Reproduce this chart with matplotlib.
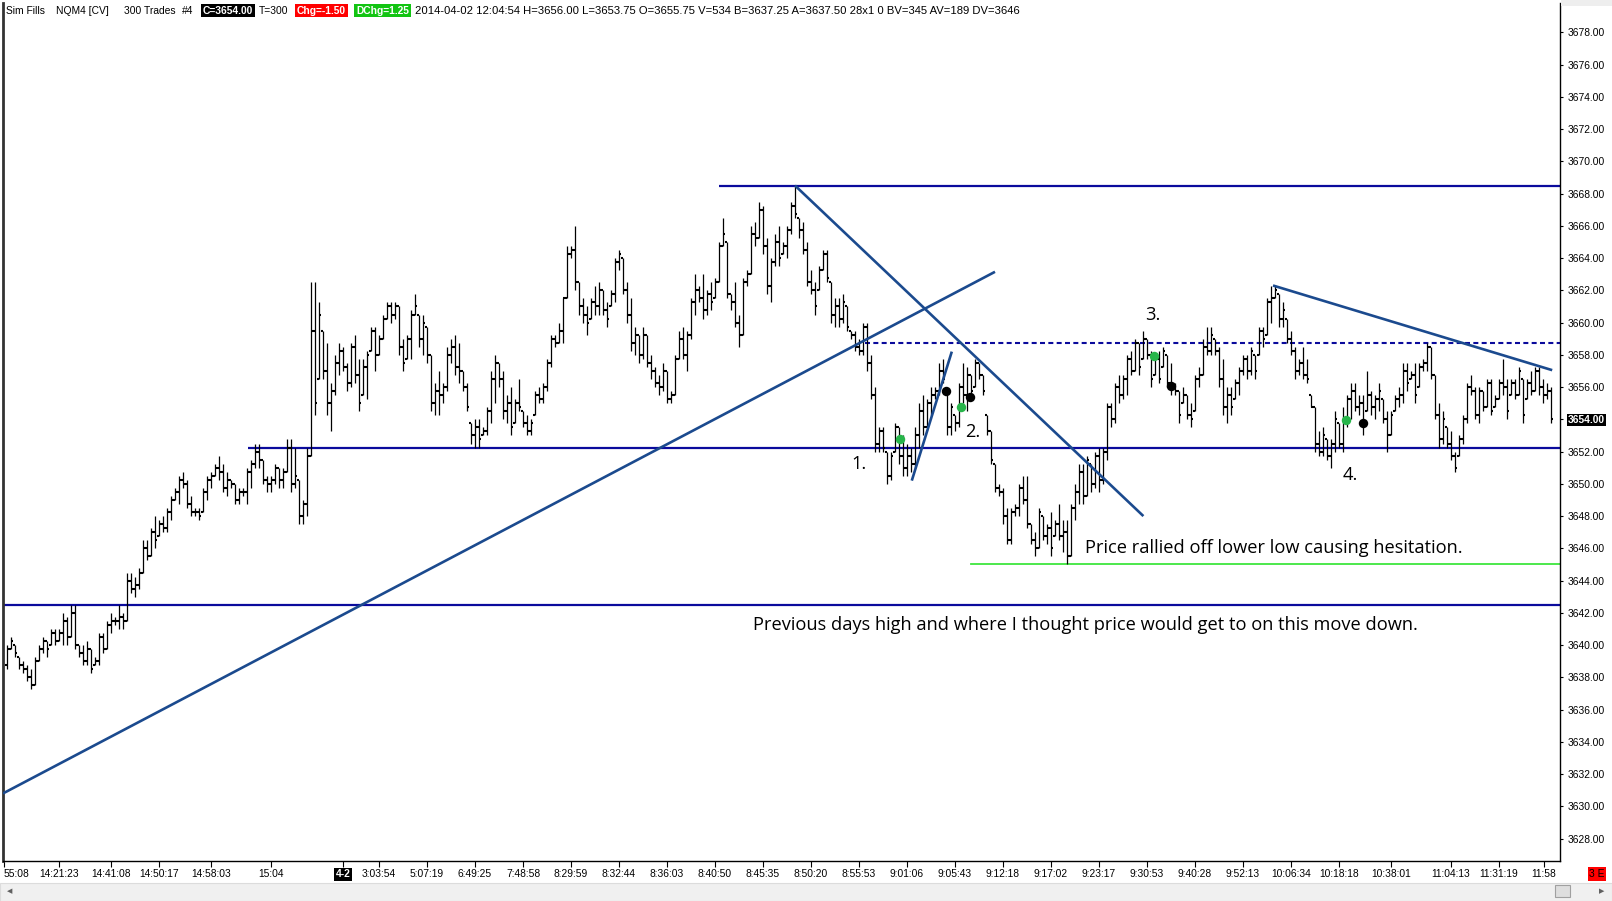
import matplotlib.pyplot as plt
import numpy as np
from matplotlib.collections import LineCollection
from matplotlib.patches import Rectangle
from matplotlib import font_manager

W, H = 1612, 901

# 300 tick bars, NQM4, one entry per bar
opens = [
    3638.75, 3639.75, 3640.0, 3639.25, 3638.75, 3638.5, 3638.0, 3637.5, 3639.0, 3639.75,
    3640.25, 3640.0, 3640.75, 3640.25, 3640.75, 3641.5, 3640.5, 3642.0, 3640.0, 3639.5,
    3639.0, 3639.75, 3638.75, 3639.0, 3640.5, 3639.75, 3641.25, 3641.5, 3641.5, 3641.75,
    3641.5, 3644.0, 3643.5, 3643.75, 3644.5, 3646.0, 3645.5, 3647.0, 3646.75, 3647.5,
    3647.25, 3648.25, 3649.0, 3649.5, 3650.25, 3650.0, 3648.75, 3648.25, 3648.25, 3648.25,
    3649.5, 3650.25, 3650.5, 3651.0, 3650.75, 3649.75, 3650.25, 3650.0, 3649.0, 3649.5,
    3649.5, 3650.75, 3651.25, 3652.0, 3651.5, 3650.25, 3650.0, 3650.25, 3651.0, 3650.25,
    3650.75, 3652.25, 3650.0, 3650.25, 3648.0, 3648.75, 3651.75, 3659.5, 3656.5, 3659.5,
    3657.0, 3655.0, 3655.75, 3657.5, 3658.25, 3657.25, 3656.25, 3658.5, 3656.75, 3655.5,
    3657.25, 3658.25, 3659.5, 3658.0, 3659.0, 3660.25, 3661.0, 3660.5, 3661.0, 3658.5,
    3657.75, 3659.0, 3660.5, 3660.5, 3659.0, 3659.75, 3658.0, 3655.0, 3655.75, 3655.5,
    3656.0, 3658.0, 3658.5, 3657.25, 3657.0, 3656.0, 3653.75, 3653.0, 3653.5, 3653.0,
    3653.25, 3654.5, 3656.5, 3657.5, 3656.5, 3654.5, 3655.0, 3653.75, 3655.0, 3654.5,
    3653.75, 3653.25, 3654.25, 3655.5, 3655.25, 3656.0, 3657.5, 3659.0, 3658.75, 3659.5,
    3661.5, 3664.25, 3664.5, 3662.5, 3661.0, 3660.5, 3660.25, 3661.25, 3661.0, 3662.0,
    3660.75, 3661.0, 3661.75, 3663.75, 3664.0, 3662.0, 3660.5, 3658.75, 3659.25, 3658.0,
    3659.25, 3657.5, 3657.0, 3656.25, 3656.0, 3657.0, 3655.25, 3655.5, 3657.75, 3659.0,
    3658.0, 3659.25, 3661.25, 3662.0, 3661.5, 3660.75, 3661.75, 3661.5, 3662.5, 3664.75,
    3665.0, 3661.75, 3661.25, 3660.0, 3659.25, 3662.5, 3663.0, 3665.5, 3665.25, 3667.0,
    3664.75, 3662.25, 3663.75, 3665.0, 3664.25, 3664.75, 3665.75, 3667.25, 3666.5, 3665.75,
    3664.5, 3662.5, 3662.0, 3662.0, 3663.25, 3664.25, 3662.5, 3660.5, 3661.0, 3660.25,
    3661.0, 3659.5, 3659.25, 3658.5, 3658.25, 3659.75, 3657.5, 3655.5, 3652.5, 3653.25,
    3652.0, 3650.5, 3652.0, 3653.5, 3651.75, 3651.0, 3651.75, 3651.25, 3653.0, 3654.5,
    3653.5, 3655.0, 3655.5, 3655.75, 3657.0, 3655.5, 3653.5, 3654.25, 3653.75, 3656.0,
    3655.5, 3656.75, 3656.0, 3657.5, 3656.75, 3654.25, 3653.25, 3651.25, 3649.75, 3649.5,
    3648.0, 3646.5, 3648.25, 3648.5, 3649.75, 3649.0, 3647.5, 3646.5, 3646.0, 3648.0,
    3646.75, 3647.25, 3646.75, 3647.5, 3646.75, 3647.0, 3645.5, 3648.5, 3649.5, 3650.75,
    3649.25, 3651.25, 3650.0, 3651.75, 3650.25, 3652.0, 3654.75, 3654.0, 3656.0, 3655.5,
    3656.5, 3657.75, 3657.0, 3658.75, 3657.75, 3659.0, 3658.0, 3656.75, 3657.75, 3657.25,
    3658.0, 3656.25, 3656.0, 3655.75, 3655.0, 3655.5, 3654.25, 3654.5, 3656.5, 3656.75,
    3658.5, 3658.25, 3659.0, 3658.25, 3656.5, 3654.75, 3655.5, 3655.25, 3656.25, 3657.0,
    3657.75, 3657.0, 3658.0, 3658.0, 3659.5, 3659.25, 3661.25, 3661.5, 3661.75, 3660.25,
    3660.25, 3659.0, 3658.25, 3657.0, 3657.5, 3656.75, 3655.5, 3654.75, 3652.5, 3652.0,
    3652.75, 3651.75, 3652.5, 3653.75, 3652.5, 3654.0, 3655.25, 3655.75, 3654.75, 3655.0,
    3654.5, 3655.5, 3654.75, 3655.25, 3655.25, 3654.0, 3653.0, 3654.5, 3655.25, 3655.5,
    3657.0, 3656.5, 3656.75, 3656.0, 3657.25, 3657.5, 3658.5, 3656.75, 3654.25, 3652.75,
    3653.5, 3652.5, 3651.75, 3651.75, 3652.75, 3654.0, 3656.0, 3655.75, 3654.25, 3655.75,
    3654.75, 3656.25, 3654.75, 3655.25, 3656.25, 3656.0, 3655.5, 3656.25, 3655.5, 3656.5,
    3655.25, 3656.25, 3655.75, 3657.0, 3656.0, 3655.5, 3655.75,
]
highs = [
    3640.0, 3640.5, 3640.0, 3639.25, 3639.0, 3638.75, 3638.5, 3639.25, 3640.0, 3640.5,
    3640.25, 3641.0, 3641.0, 3641.0, 3642.0, 3641.75, 3642.5, 3642.5, 3640.0, 3640.0,
    3640.25, 3639.75, 3639.25, 3640.75, 3640.75, 3641.5, 3642.0, 3641.75, 3642.5, 3642.0,
    3644.5, 3644.5, 3644.25, 3644.75, 3646.5, 3646.5, 3647.25, 3648.0, 3647.75, 3648.0,
    3648.5, 3649.25, 3649.75, 3650.5, 3650.75, 3650.25, 3649.25, 3648.5, 3648.5, 3649.75,
    3650.5, 3650.75, 3651.25, 3651.75, 3651.25, 3650.75, 3650.25, 3650.0, 3649.75, 3649.75,
    3651.0, 3651.5, 3652.5, 3652.5, 3651.5, 3650.5, 3650.5, 3651.25, 3651.0, 3651.0,
    3652.75, 3652.75, 3652.25, 3650.25, 3649.0, 3652.25, 3662.5, 3662.5, 3661.25, 3659.5,
    3658.75, 3656.25, 3658.0, 3658.75, 3658.5, 3657.5, 3658.75, 3659.25, 3657.75, 3657.75,
    3658.25, 3659.75, 3659.75, 3659.25, 3660.5, 3661.25, 3661.25, 3661.25, 3661.0, 3659.0,
    3659.25, 3660.75, 3661.75, 3660.5, 3660.5, 3659.75, 3658.0, 3656.25, 3657.0, 3656.25,
    3658.5, 3659.0, 3659.25, 3658.75, 3657.0, 3656.25, 3653.75, 3654.0, 3654.0, 3653.5,
    3654.75, 3657.0, 3658.0, 3657.5, 3657.0, 3655.5, 3656.0, 3655.25, 3656.5, 3654.5,
    3654.25, 3654.0, 3655.75, 3656.0, 3656.25, 3657.75, 3659.25, 3659.25, 3660.0, 3661.5,
    3664.75, 3664.75, 3666.0, 3662.5, 3661.5, 3661.0, 3661.5, 3662.25, 3662.5, 3662.0,
    3661.25, 3662.0, 3664.0, 3664.5, 3664.0, 3662.5, 3661.5, 3659.75, 3659.25, 3659.75,
    3659.25, 3658.0, 3657.25, 3656.75, 3657.5, 3657.0, 3655.75, 3658.0, 3659.5, 3659.75,
    3659.5, 3661.5, 3663.0, 3662.25, 3663.0, 3662.0, 3662.5, 3662.75, 3665.0, 3666.5,
    3665.0, 3661.75, 3662.5, 3660.5, 3662.75, 3663.25, 3666.0, 3666.25, 3667.5, 3667.25,
    3665.25, 3664.0, 3665.5, 3666.0, 3665.0, 3666.0, 3667.5, 3668.5, 3666.5, 3666.25,
    3665.0, 3663.25, 3662.5, 3663.5, 3664.5, 3664.5, 3662.5, 3661.5, 3661.5, 3661.75,
    3661.0, 3659.5, 3659.5, 3659.0, 3660.0, 3660.0, 3658.0, 3656.0, 3653.5, 3653.5,
    3652.0, 3652.0, 3653.75, 3653.5, 3653.0, 3652.5, 3652.25, 3653.5, 3655.0, 3655.5,
    3655.25, 3656.0, 3656.0, 3657.5, 3657.75, 3655.5, 3655.0, 3654.25, 3656.25, 3657.5,
    3657.25, 3656.75, 3657.75, 3657.5, 3656.75, 3654.25, 3653.25, 3651.25, 3650.0, 3649.75,
    3648.5, 3648.5, 3648.75, 3650.0, 3650.5, 3650.5, 3647.5, 3647.0, 3648.5, 3648.0,
    3647.5, 3648.25, 3647.75, 3648.75, 3647.75, 3647.75, 3648.75, 3650.0, 3651.25, 3651.25,
    3651.75, 3651.25, 3652.0, 3652.25, 3652.25, 3655.0, 3655.0, 3656.25, 3656.75, 3656.75,
    3658.0, 3658.25, 3659.0, 3658.75, 3659.5, 3659.0, 3658.25, 3658.0, 3658.25, 3658.5,
    3658.0, 3657.5, 3656.25, 3655.75, 3656.0, 3655.5, 3655.0, 3656.75, 3657.25, 3659.0,
    3659.75, 3659.75, 3659.0, 3658.5, 3657.75, 3656.0, 3656.0, 3656.5, 3657.25, 3658.0,
    3658.0, 3658.5, 3658.0, 3659.75, 3659.75, 3661.5, 3662.25, 3662.25, 3661.75, 3661.25,
    3660.25, 3659.5, 3658.5, 3657.75, 3658.5, 3657.75, 3655.5, 3654.75, 3653.25, 3653.5,
    3652.75, 3652.75, 3654.5, 3653.75, 3654.75, 3655.5, 3656.25, 3656.25, 3655.5, 3655.5,
    3657.0, 3655.75, 3655.5, 3656.25, 3655.25, 3654.5, 3654.5, 3655.5, 3656.0, 3657.5,
    3657.5, 3657.0, 3657.5, 3657.5, 3657.75, 3658.75, 3658.5, 3656.75, 3655.0, 3654.5,
    3653.5, 3653.25, 3652.0, 3653.0, 3654.25, 3656.25, 3656.75, 3656.0, 3656.0, 3655.75,
    3656.5, 3656.5, 3655.5, 3656.5, 3657.75, 3656.5, 3656.5, 3656.5, 3657.25, 3656.5,
    3656.5, 3657.0, 3657.25, 3657.25, 3656.5, 3656.25, 3656.0,
]
lows = [
    3638.5, 3639.75, 3639.25, 3638.5, 3638.25, 3637.75, 3637.25, 3637.5, 3639.0, 3639.5,
    3639.25, 3640.0, 3640.0, 3640.25, 3640.0, 3640.0, 3640.5, 3639.75, 3639.25, 3638.75,
    3638.75, 3638.25, 3638.75, 3638.75, 3639.5, 3639.75, 3640.75, 3641.25, 3641.0, 3641.0,
    3641.5, 3643.25, 3643.0, 3643.5, 3644.5, 3645.25, 3645.5, 3646.0, 3646.75, 3647.0,
    3647.0, 3647.75, 3649.0, 3648.75, 3649.75, 3648.5, 3648.0, 3648.0, 3647.75, 3648.25,
    3649.0, 3649.75, 3650.5, 3650.25, 3649.5, 3649.25, 3649.75, 3648.75, 3648.75, 3649.25,
    3648.75, 3649.75, 3651.0, 3651.0, 3650.0, 3649.5, 3649.5, 3650.0, 3649.75, 3649.75,
    3650.75, 3649.5, 3649.75, 3647.5, 3647.5, 3648.0, 3651.75, 3654.25, 3656.5, 3656.5,
    3654.25, 3653.25, 3655.5, 3656.75, 3657.0, 3655.75, 3656.0, 3656.25, 3654.5, 3655.5,
    3655.25, 3658.25, 3657.0, 3658.0, 3659.0, 3660.25, 3660.0, 3660.25, 3658.0, 3657.0,
    3657.75, 3657.75, 3660.5, 3658.5, 3658.0, 3657.5, 3654.5, 3654.25, 3654.25, 3655.0,
    3655.75, 3657.5, 3656.75, 3656.25, 3655.75, 3654.5, 3652.5, 3652.25, 3652.25, 3653.0,
    3653.0, 3653.75, 3655.0, 3656.0, 3654.0, 3653.75, 3653.0, 3653.75, 3654.5, 3653.5,
    3653.0, 3653.0, 3654.25, 3655.0, 3655.0, 3655.75, 3657.25, 3658.5, 3658.75, 3658.75,
    3661.5, 3664.0, 3662.0, 3660.5, 3660.0, 3659.25, 3660.25, 3660.5, 3660.5, 3660.5,
    3659.75, 3661.0, 3661.25, 3663.25, 3661.75, 3660.0, 3658.25, 3658.0, 3657.5, 3657.75,
    3657.25, 3656.5, 3656.0, 3655.5, 3655.75, 3655.0, 3655.0, 3655.5, 3657.75, 3657.75,
    3657.0, 3659.0, 3660.5, 3661.25, 3660.25, 3660.5, 3660.75, 3661.5, 3662.5, 3664.75,
    3661.5, 3660.75, 3659.75, 3658.5, 3659.25, 3662.25, 3663.0, 3664.75, 3665.25, 3664.25,
    3661.75, 3661.25, 3663.5, 3663.5, 3664.25, 3664.0, 3665.5, 3666.5, 3665.25, 3664.25,
    3662.25, 3661.75, 3660.5, 3662.0, 3663.25, 3662.5, 3660.0, 3659.75, 3659.75, 3660.0,
    3659.5, 3659.0, 3658.25, 3658.0, 3658.0, 3657.0, 3655.25, 3652.0, 3652.0, 3652.0,
    3650.0, 3650.25, 3652.0, 3651.25, 3650.5, 3650.5, 3650.75, 3651.0, 3652.25, 3653.0,
    3653.5, 3654.25, 3655.25, 3655.5, 3656.25, 3653.0, 3653.0, 3653.25, 3653.5, 3655.0,
    3654.5, 3655.5, 3656.0, 3656.5, 3655.5, 3653.0, 3651.25, 3649.5, 3649.25, 3647.5,
    3646.25, 3646.25, 3648.0, 3648.0, 3648.75, 3647.25, 3646.25, 3645.5, 3646.0, 3646.5,
    3646.25, 3645.5, 3646.75, 3646.5, 3645.75, 3645.0, 3645.5, 3647.75, 3648.75, 3648.75,
    3649.25, 3649.5, 3649.75, 3649.5, 3650.0, 3651.5, 3653.5, 3653.75, 3655.0, 3655.25,
    3655.5, 3656.75, 3657.0, 3656.75, 3657.75, 3657.75, 3656.0, 3656.75, 3656.25, 3657.25,
    3656.0, 3655.5, 3655.5, 3653.75, 3655.0, 3654.0, 3653.5, 3654.5, 3656.0, 3656.75,
    3658.0, 3658.0, 3658.0, 3656.0, 3654.25, 3653.75, 3654.25, 3655.25, 3655.5, 3656.75,
    3656.5, 3656.75, 3656.5, 3658.0, 3658.5, 3659.25, 3660.0, 3661.5, 3659.75, 3659.75,
    3658.75, 3658.0, 3656.5, 3656.75, 3656.5, 3656.25, 3654.75, 3652.0, 3651.75, 3651.75,
    3651.5, 3651.0, 3652.0, 3652.25, 3652.0, 3653.5, 3654.0, 3654.5, 3654.25, 3653.0,
    3654.5, 3654.25, 3654.0, 3654.5, 3653.75, 3652.0, 3653.0, 3654.5, 3654.75, 3655.0,
    3655.75, 3656.5, 3655.0, 3656.0, 3657.0, 3657.0, 3656.5, 3654.0, 3652.25, 3652.5,
    3652.25, 3651.5, 3650.75, 3651.75, 3652.5, 3653.75, 3655.5, 3654.0, 3653.75, 3654.5,
    3654.75, 3654.25, 3654.75, 3655.25, 3655.5, 3654.0, 3655.5, 3655.25, 3655.5, 3653.75,
    3655.25, 3655.5, 3655.75, 3655.5, 3655.0, 3655.25, 3653.75,
]
closes = [
    3639.75, 3640.25, 3639.5, 3638.75, 3638.5, 3638.0, 3637.5, 3639.0, 3639.75, 3640.25,
    3639.75, 3640.75, 3640.25, 3640.75, 3641.5, 3640.5, 3642.0, 3640.0, 3639.5, 3639.0,
    3639.75, 3638.5, 3639.0, 3640.5, 3639.75, 3641.25, 3641.5, 3641.5, 3641.75, 3641.5,
    3644.0, 3643.5, 3643.75, 3644.5, 3646.0, 3645.5, 3647.0, 3646.5, 3647.5, 3647.25,
    3648.25, 3649.0, 3649.5, 3650.25, 3650.0, 3648.75, 3648.25, 3648.25, 3648.0, 3649.5,
    3650.25, 3650.5, 3651.0, 3650.75, 3649.75, 3650.25, 3650.0, 3649.0, 3649.5, 3649.5,
    3650.75, 3651.25, 3652.0, 3651.5, 3650.25, 3650.0, 3650.25, 3651.0, 3650.25, 3650.75,
    3652.25, 3650.0, 3650.5, 3648.0, 3648.75, 3651.75, 3659.5, 3655.0, 3660.5, 3657.0,
    3655.0, 3655.75, 3657.5, 3658.25, 3657.25, 3656.25, 3658.5, 3656.75, 3655.0, 3657.25,
    3658.0, 3659.5, 3658.0, 3659.0, 3660.25, 3661.0, 3660.5, 3661.0, 3658.5, 3657.5,
    3659.0, 3660.5, 3661.0, 3659.0, 3660.0, 3658.0, 3655.0, 3655.75, 3655.5, 3656.0,
    3658.0, 3658.5, 3657.25, 3657.0, 3656.0, 3654.75, 3653.0, 3653.5, 3652.75, 3653.25,
    3654.5, 3656.5, 3657.5, 3656.5, 3654.5, 3655.0, 3653.5, 3655.0, 3654.75, 3653.75,
    3653.25, 3653.75, 3655.5, 3655.25, 3656.0, 3657.5, 3659.0, 3658.75, 3659.5, 3661.5,
    3664.25, 3664.5, 3662.5, 3661.0, 3660.5, 3660.0, 3661.25, 3661.0, 3662.0, 3660.75,
    3660.25, 3661.75, 3663.75, 3664.25, 3662.0, 3660.5, 3658.75, 3659.25, 3658.0, 3659.25,
    3657.5, 3657.0, 3656.25, 3656.0, 3657.0, 3655.25, 3655.5, 3657.75, 3659.0, 3658.0,
    3659.25, 3661.25, 3662.0, 3661.5, 3660.75, 3661.75, 3661.25, 3662.5, 3664.75, 3665.5,
    3661.75, 3661.25, 3660.0, 3659.25, 3662.5, 3663.0, 3665.5, 3665.25, 3667.0, 3664.75,
    3662.25, 3663.75, 3665.0, 3664.0, 3664.75, 3665.75, 3667.25, 3666.75, 3665.75, 3664.5,
    3662.5, 3662.0, 3661.0, 3663.25, 3664.25, 3662.75, 3660.5, 3661.0, 3660.25, 3661.25,
    3659.75, 3659.25, 3658.5, 3658.25, 3659.75, 3657.5, 3655.5, 3652.5, 3653.25, 3652.25,
    3650.5, 3651.75, 3653.5, 3651.75, 3651.0, 3651.75, 3651.25, 3653.0, 3654.5, 3653.5,
    3655.0, 3655.5, 3655.75, 3657.0, 3656.5, 3653.5, 3654.75, 3653.75, 3656.0, 3655.5,
    3656.75, 3655.75, 3657.5, 3656.75, 3655.75, 3653.25, 3651.5, 3649.75, 3649.5, 3648.0,
    3646.5, 3648.25, 3648.5, 3649.75, 3649.0, 3647.5, 3646.5, 3646.0, 3648.25, 3646.75,
    3647.25, 3646.0, 3647.5, 3646.75, 3647.0, 3645.5, 3648.5, 3649.5, 3650.75, 3649.25,
    3651.5, 3650.0, 3651.75, 3650.25, 3652.0, 3654.75, 3654.0, 3656.0, 3655.5, 3656.5,
    3657.75, 3657.0, 3658.75, 3657.25, 3659.0, 3658.0, 3656.5, 3657.75, 3656.5, 3658.25,
    3656.25, 3656.0, 3655.75, 3654.25, 3655.5, 3654.25, 3654.0, 3656.5, 3656.75, 3658.5,
    3658.25, 3659.25, 3658.25, 3656.5, 3654.75, 3655.5, 3654.75, 3656.25, 3657.0, 3657.75,
    3657.0, 3658.25, 3657.0, 3659.5, 3659.0, 3661.25, 3661.5, 3662.0, 3660.25, 3660.75,
    3659.0, 3658.25, 3657.0, 3657.5, 3656.75, 3656.5, 3654.75, 3652.5, 3652.0, 3653.0,
    3651.75, 3652.5, 3654.0, 3652.5, 3654.0, 3655.25, 3655.75, 3654.75, 3655.0, 3653.75,
    3655.5, 3654.75, 3655.25, 3655.75, 3654.0, 3653.0, 3654.25, 3655.25, 3655.5, 3657.0,
    3656.25, 3656.75, 3655.5, 3657.25, 3657.5, 3658.5, 3656.75, 3654.25, 3652.75, 3654.0,
    3652.5, 3651.75, 3651.0, 3652.75, 3654.0, 3656.0, 3655.75, 3654.25, 3655.75, 3654.75,
    3656.25, 3654.5, 3655.25, 3656.25, 3656.0, 3654.5, 3656.25, 3655.5, 3657.0, 3654.25,
    3656.25, 3655.75, 3657.0, 3656.0, 3655.5, 3655.75, 3654.0,
]

# time axis labels (bar index, text)
tick_bars = [-0.75, 13, 26, 38, 51, 66, 84, 93, 105, 117, 129, 141, 153, 165, 177, 189,
             201, 213, 225, 237, 249, 261, 273, 285, 297, 309, 321, 333, 346, 361, 373, 384.25]
tick_labels = ['55:08', '14:21:23', '14:41:08', '14:50:17', '14:58:03', '15:04', '4-2',
               '3:03:54', '5:07:19', '6:49:25', '7:48:58', '8:29:59', '8:32:44', '8:36:03',
               '8:40:50', '8:45:35', '8:50:20', '8:55:53', '9:01:06', '9:05:43', '9:12:18',
               '9:17:02', '9:23:17', '9:30:53', '9:40:28', '9:52:13', '10:06:34', '10:18:18',
               '10:38:01', '11:04:13', '11:31:19', '11:58']
price_ticks = [3628 + 2 * k for k in range(26)]
last_price = 3654.0

# drawn levels: (price, first bar)
solid_levels = [(3668.5, 178.1), (3652.25, 60.2), (3642.5, -1.0)]
dashed_levels = [(3658.75, 214.5)]
green_levels = [(3645.0, 241.0)]
# trend lines ((bar, price), (bar, price))
trend_lines = [((-1.0, 3630.8), (247.0, 3663.15)),
               ((197.0, 3668.5), (284.1, 3648.0)),
               ((226.2, 3650.2), (236.2, 3658.2)),
               ((316.5, 3662.3), (386.3, 3657.05))]
green_dot_bar = [223.25, 238.5, 286.75, 334.8]
green_dot_price = [3652.8, 3654.75, 3657.9, 3653.95]
black_dot_bar = [234.75, 240.75, 291.0, 339.0]
black_dot_price = [3655.75, 3655.4, 3656.05, 3653.75]
notes = [('1.', 211.0, 3651.2), ('2.', 239.6, 3653.2), ('3.', 284.5, 3660.5),
         ('4.', 334.0, 3650.55),
         ('Price rallied off lower low causing hesitation.', 269.4, 3646.0),
         ('Previous days high and where I thought price would get to on this move down.',
          186.4, 3641.25)]

names = {f.name for f in font_manager.fontManager.ttflist}
narrow = 'Liberation Sans Narrow' if 'Liberation Sans Narrow' in names else 'Liberation Sans'

fig = plt.figure(figsize=(W / 100, H / 100), dpi=100)
fig.patch.set_facecolor('white')
renderer = fig.canvas.get_renderer()


def fit(t, width_px):
    w = t.get_window_extent(renderer=renderer).width
    t.set_fontsize(t.get_fontsize() * width_px / w)
    return t.get_fontsize()


def fx(px):
    return px / W


def fy(py):
    return 1 - py / H


ax = fig.add_axes([fx(3), fy(861), (1560 - 3) / W, (861 - 3) / H])
ax.set_xlim(-1, 388.25)
ax.set_ylim(3626.61, 3679.82)

n = len(closes)
xs = np.arange(n)
segs = [[(x, lo), (x, hi)] for x, lo, hi in zip(xs, lows, highs)]
ax.add_collection(LineCollection(segs, colors='black', linewidths=0.9, zorder=3))
otk = [[(x - 0.38, o), (x, o)] for x, o in zip(xs, opens)]
ctk = [[(x, c), (x + 0.38, c)] for x, c in zip(xs, closes)]
ax.add_collection(LineCollection(otk + ctk, colors='black', linewidths=1.5, zorder=3))

xr = ax.get_xlim()[1]
for p, x0 in solid_levels:
    ax.plot([x0, xr], [p, p], color='#0a0a9c', lw=1.6, zorder=2, solid_capstyle='butt')
for p, x0 in dashed_levels:
    ax.plot([x0, xr], [p, p], color='#0a0a9c', lw=1.5, ls=(0, (2.4, 1.6)), zorder=2)
for p, x0 in green_levels:
    ax.plot([x0, xr], [p, p], color='#3ee63e', lw=1.3, zorder=2)
for (x0, y0), (x1, y1) in trend_lines:
    ax.plot([x0, x1], [y0, y1], color='#1b4a8e', lw=1.9, zorder=4, solid_capstyle='butt')

ax.plot(green_dot_bar, green_dot_price, 'o', color='#27b54a', ms=6.8, mec='none', zorder=5)
ax.plot(black_dot_bar, black_dot_price, 'o', color='black', ms=6.8, mec='none', zorder=5)

note_size = None
for txt, x, y in notes[::-1]:
    t = ax.text(x, y, txt, family='Open Sans', fontsize=12, ha='left', va='center',
                color='black', zorder=6)
    if note_size is None:
        note_size = fit(t, 664)
    else:
        t.set_fontsize(note_size)

# axes frame
ax.spines['top'].set_visible(False)
ax.spines['left'].set_linewidth(2.0)
ax.spines['left'].set_color('#333333')
ax.spines['bottom'].set_linewidth(1.0)
ax.spines['right'].set_linewidth(1.0)

tmp = fig.text(0, 0, '11:31:19', family=narrow, fontsize=9)
tick_size = fit(tmp, 39)
tmp.remove()
tmp = fig.text(0, 0, '3678.00', family=narrow, fontsize=9)
ytick_size = fit(tmp, 37)
tmp.remove()

ax.set_xticks(tick_bars)
ax.set_xticklabels(tick_labels, family=narrow, fontsize=tick_size)
ax.tick_params(axis='x', direction='out', length=4, width=0.8, pad=2)
xl = ax.get_xticklabels()
xl[0].set_ha('left')
for lab in xl:
    if lab.get_text() == '4-2':
        lab.set_color('white')
        lab.set_fontweight('bold')
        lab.set_bbox(dict(fc='black', ec='none', pad=1.0))

ax.yaxis.tick_right()
ax.set_yticks(price_ticks)
ax.set_yticklabels(['%.2f' % p for p in price_ticks], family=narrow, fontsize=ytick_size)
ax.tick_params(axis='y', direction='out', length=2.5, width=0.8, pad=3)
for lab in ax.get_yticklabels():
    if lab.get_text() == '%.2f' % last_price:
        lab.set_color('white')
        lab.set_fontweight('bold')
        lab.set_bbox(dict(fc='black', ec='none', pad=0.8))

# header line
hy = fy(10.5)
long_t = fig.text(fx(415), hy, '2014-04-02 12:04:54 H=3656.00 L=3653.75 O=3655.75 V=534 '
                  'B=3637.25 A=3637.50 28x1 0 BV=345 AV=189 DV=3646',
                  family='Liberation Sans', fontsize=8, va='center')
hs = fit(long_t, 601) * 0.92
plain = [('Sim Fills', 6.5), ('NQM4 [CV]', 56.5), ('300 Trades', 124.5), ('#4', 182),
         ('T=300', 259)]
for s, x in plain:
    fig.text(fx(x), hy, s, family='Liberation Sans', fontsize=hs, va='center')
boxed = [('C=3654.00', 203, 'black'), ('Chg=-1.50', 297, '#ff0000'),
         ('DChg=1.25', 356, '#12c412')]
for s, x, c in boxed:
    fig.text(fx(x), hy, s, family='Liberation Sans', fontsize=hs, va='center',
             color='white', fontweight='bold',
             bbox=dict(fc=c, ec='none', pad=1.2))

# corner tag and scroll bar
fig.text(fx(1597), fy(874), '3 E', family=narrow, fontsize=tick_size, color='black',
         ha='center', va='center', bbox=dict(fc='#ff0000', ec='none', pad=1.2))
fig.patches.append(Rectangle((0, 0), 1, 18 / H, transform=fig.transFigure,
                             fc='#f0f0f0', ec='#dcdcdc', lw=0.8))
fig.patches.append(Rectangle((fx(1555), fy(897)), 15 / W, 12 / H, transform=fig.transFigure,
                             fc='#dedede', ec='#a0a0a0', lw=0.8))
fig.text(fx(10), fy(891), '\u25c0', fontsize=5, color='#606060', ha='center', va='center')
fig.text(fx(1602), fy(891), '\u25b6', fontsize=5, color='#606060', ha='center', va='center')
fig.patches.append(Rectangle((fx(1561), fy(6)), 51 / W, 6 / H, transform=fig.transFigure,
                             fc='#eeeeee', ec='none'))

fig.savefig('out.png', dpi=100)
plt.close(fig)
